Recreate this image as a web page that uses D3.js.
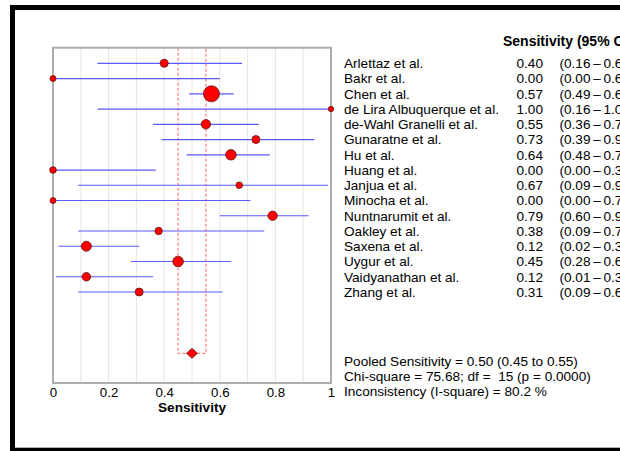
<!DOCTYPE html>
<html>
<head>
<meta charset="utf-8">
<script src="https://cdn.jsdelivr.net/npm/d3@7"></script>
<style>
  html, body { margin: 0; padding: 0; background: #fff; overflow: hidden; }
  svg { display: block; font-family: Arial, "Liberation Sans", sans-serif; }
</style>
</head>
<body>
<svg id="chart" width="620" height="451"></svg>
<script>
// Study-level sensitivity with 95% confidence intervals
const studies = [
  "Arlettaz et al.", "Bakr et al.", "Chen et al.", "de Lira Albuquerque et al.",
  "de-Wahl Granelli et al.", "Gunaratne et al.", "Hu et al.", "Huang et al.",
  "Janjua et al.", "Minocha et al.", "Nuntnarumit et al.", "Oakley et al.",
  "Saxena et al.", "Uygur et al.", "Vaidyanathan et al.", "Zhang et al."
];
const sensitivity = [0.40, 0.00, 0.57, 1.00, 0.55, 0.73, 0.64, 0.00,
                     0.67, 0.00, 0.79, 0.38, 0.12, 0.45, 0.12, 0.31];
const ciLower = [0.16, 0.00, 0.49, 0.16, 0.36, 0.39, 0.48, 0.00,
                 0.09, 0.00, 0.60, 0.09, 0.02, 0.28, 0.01, 0.09];
const ciUpper = [0.68, 0.60, 0.65, 1.00, 0.74, 0.94, 0.78, 0.37,
                 0.99, 0.71, 0.92, 0.76, 0.31, 0.64, 0.36, 0.61];
// relative study weights (marker area)
const weights = [16, 9, 64, 7.3, 22, 16, 28, 11, 11, 9, 22, 13.7, 25, 28, 18.5, 16];

// pooled estimate
const pooled = { est: 0.50, lo: 0.45, hi: 0.55 };
const statsLines = [
  "Pooled Sensitivity = 0.50 (0.45 to 0.55)",
  "Chi-square = 75.68; df =  15 (p = 0.0000)",
  "Inconsistency (I-square) = 80.2 %"
];
const xTicks = [0, 0.2, 0.4, 0.6, 0.8, 1];
const gridTicks = d3.range(1, 10).map(d => d / 10);

const svg = d3.select("#chart");
const fmt2 = d3.format(".2f");
const FS = 13.6;

const plot = { left: 53, right: 331, top: 47.7, bottom: 383 };
const x = d3.scaleLinear().domain([0, 1]).range([plot.left, plot.right]);
const y = d3.scalePoint().domain(studies).range([63.3, 292]);
const yPooled = 353.3;
const r = d3.scaleSqrt().domain([0, 64]).range([0, 8]);

const rows = studies.map((s, i) => ({
  name: s, est: sensitivity[i], lo: ciLower[i], hi: ciUpper[i], w: weights[i]
}));

// outer frame
svg.append("rect")
  .attr("x", 12.5).attr("y", 7.5).attr("width", 640).attr("height", 442.7)
  .attr("fill", "none").attr("stroke", "#000").attr("stroke-width", 5);

// vertical grid lines
svg.append("g").selectAll("line").data(gridTicks).join("line")
  .attr("x1", d => x(d)).attr("x2", d => x(d))
  .attr("y1", plot.top).attr("y2", plot.bottom)
  .attr("stroke", "#e6e6e6").attr("stroke-width", 1);

// pooled CI band (dashed)
const band = d3.path();
band.moveTo(x(pooled.lo), plot.top);
band.lineTo(x(pooled.lo), yPooled);
band.lineTo(x(pooled.hi), yPooled);
band.lineTo(x(pooled.hi), plot.top);
svg.append("path").attr("d", band.toString())
  .attr("fill", "none").attr("stroke", "#ff6060").attr("stroke-width", 1)
  .attr("stroke-dasharray", "3,2");

// plot frame
svg.append("rect")
  .attr("x", plot.left).attr("y", plot.top)
  .attr("width", plot.right - plot.left).attr("height", plot.bottom - plot.top)
  .attr("fill", "none").attr("stroke", "#adadad").attr("stroke-width", 2);

// confidence interval lines
svg.append("g").selectAll("line").data(rows).join("line")
  .attr("x1", d => x(d.lo)).attr("x2", d => x(d.hi))
  .attr("y1", d => y(d.name)).attr("y2", d => y(d.name))
  .attr("stroke", "#5a5aff").attr("stroke-width", 1.2);

// point estimates
svg.append("g").selectAll("circle").data(rows).join("circle")
  .attr("cx", d => x(d.est)).attr("cy", d => y(d.name))
  .attr("r", d => r(d.w))
  .attr("fill", "#ff0000").attr("stroke", "#4a0a0a").attr("stroke-width", 0.7);

// pooled diamond
const dia = d3.path();
dia.moveTo(x(pooled.est) - 5.5, yPooled);
dia.lineTo(x(pooled.est), yPooled - 5);
dia.lineTo(x(pooled.est) + 5.5, yPooled);
dia.lineTo(x(pooled.est), yPooled + 5);
dia.closePath();
svg.append("path").attr("d", dia.toString())
  .attr("fill", "#ff0000").attr("stroke", "#4a0a0a").attr("stroke-width", 0.7);

// x axis
const axis = svg.append("g")
  .attr("transform", `translate(0,${plot.bottom})`)
  .call(d3.axisBottom(x).tickValues(xTicks).tickSize(0).tickPadding(5)
        .tickFormat(d => d3.format("")(d)));
axis.select(".domain").remove();
axis.selectAll("text").attr("font-size", 13.3).attr("fill", "#000")
  .attr("font-family", "Arial, 'Liberation Sans', sans-serif");

svg.append("text")
  .attr("x", x(0.5)).attr("y", 407.5).attr("dy", "0.35em")
  .attr("text-anchor", "middle").attr("font-size", 13.6).attr("font-weight", "bold")
  .text("Sensitivity");

// right-hand table
svg.append("text")
  .attr("x", 503).attr("y", 41).attr("dy", "0.35em")
  .attr("font-size", 14).attr("font-weight", "bold")
  .text("Sensitivity (95% CI)");

const table = svg.append("g").attr("font-size", FS);
table.selectAll("text.name").data(rows).join("text")
  .attr("class", "name")
  .attr("x", 344).attr("y", d => y(d.name)).attr("dy", "0.35em")
  .text(d => d.name);
table.selectAll("text.val").data(rows).join("text")
  .attr("class", "val")
  .attr("x", 543).attr("y", d => y(d.name)).attr("dy", "0.35em")
  .attr("text-anchor", "end")
  .text(d => fmt2(d.est));
table.selectAll("text.ci").data(rows).join("text")
  .attr("class", "ci")
  .attr("x", 559.5).attr("y", d => y(d.name)).attr("dy", "0.35em")
  .text(d => `(${fmt2(d.lo)}\u2009\u2013\u2009${fmt2(d.hi)})`);

// pooled statistics
svg.append("g").attr("font-size", FS).selectAll("text").data(statsLines).join("text")
  .attr("x", 344).attr("y", (d, i) => 361.5 + i * 14.7).attr("dy", "0.35em")
  .attr("xml:space", "preserve").style("white-space", "pre")
  .text(d => d);
</script>
</body>
</html>
